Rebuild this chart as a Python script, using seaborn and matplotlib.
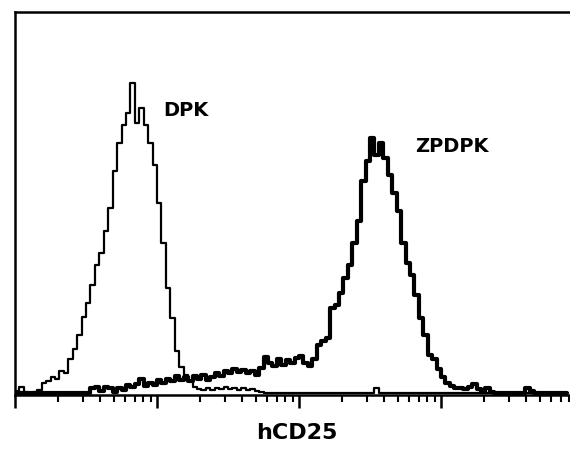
import numpy as np
import pandas as pd
import matplotlib
matplotlib.use("Agg")
import matplotlib.pyplot as plt
import seaborn as sns
from matplotlib.ticker import LogLocator, NullFormatter

# channel counts, 32 channels per decade
dpk = [2, 6, 1, 0, 1, 3, 10, 12, 16, 14,
       22, 20, 34, 44, 58, 76, 90, 108, 128, 140,
       162, 185, 222, 250, 268, 280, 310, 270, 285, 268,
       250, 228, 190, 150, 105, 75, 42, 26, 18, 12,
       6, 4, 3, 5, 3, 5, 4, 6, 4, 5,
       3, 5, 3, 4, 2, 1, 0, 0, 0, 0,
       0, 0, 0, 0, 0, 0, 0, 0, 0, 0,
       0, 0, 0, 0, 0, 0, 0, 0, 0, 0,
       0, 5, 0, 0, 0, 0, 0, 0, 0, 0,
       0, 0, 0, 0, 0, 0, 0, 0, 0, 0,
       0, 0, 0, 0, 0, 0, 0, 0, 0, 0,
       0, 0, 0, 0, 0, 0, 0, 0, 0, 0,
       0, 0, 0, 0, 0]

zpdpk = [0, 0, 0, 0, 0, 0, 0, 0, 0, 0,
         0, 0, 0, 0, 0, 0, 0, 5, 6, 2,
         6, 5, 1, 5, 3, 8, 6, 9, 14, 7,
         10, 8, 13, 10, 14, 12, 17, 13, 16, 12,
         17, 14, 18, 13, 16, 20, 17, 22, 20, 24,
         21, 23, 20, 22, 18, 25, 36, 30, 27, 34,
         28, 33, 30, 35, 37, 30, 27, 34, 48, 52,
         55, 85, 88, 100, 115, 128, 150, 172, 212, 232,
         255, 238, 250, 235, 218, 200, 182, 150, 130, 118,
         98, 75, 58, 38, 34, 24, 16, 10, 7, 5,
         5, 4, 6, 9, 4, 1, 5, 1, 0, 0,
         0, 0, 0, 0, 0, 5, 2, 0, 0, 0,
         0, 0, 0, 0, 0]

per_decade = 32
chan = np.arange(len(dpk))
fluor = 10 ** ((chan + 0.5) / per_decade)

df = pd.DataFrame({"hCD25": np.concatenate([fluor, fluor]),
                   "count": dpk + zpdpk,
                   "sample": ["DPK"] * len(dpk) + ["ZPDPK"] * len(zpdpk)})

sns.set_style("white")
plt.rcParams["font.family"] = ["DejaVu Sans"]
plt.rcParams["text.color"] = "black"

fig = plt.figure(figsize=(5.7, 4.51), dpi=100)
ax = fig.add_axes([15 / 570, 1 - 395 / 451, 1 - 15 / 570, (395 - 12) / 451])

sns.lineplot(data=df[df["sample"] == "DPK"], x="hCD25", y="count",
             color="black", linewidth=1.6, drawstyle="steps-mid", ax=ax)
sns.lineplot(data=df[df["sample"] == "ZPDPK"], x="hCD25", y="count",
             color="black", linewidth=3.0, drawstyle="steps-mid", ax=ax)

ax.set_xscale("log")
ax.set_xlim(1, 10 ** (555 / 142))
ax.set_ylim(-2, 381)

ax.xaxis.set_major_locator(LogLocator(base=10, numticks=10))
ax.xaxis.set_minor_locator(LogLocator(base=10, subs=np.arange(2, 10), numticks=50))
ax.xaxis.set_major_formatter(NullFormatter())
ax.xaxis.set_minor_formatter(NullFormatter())
ax.tick_params(axis="x", which="major", direction="out", length=9, width=1.8,
               bottom=True, color="black")
ax.tick_params(axis="x", which="minor", direction="out", length=5, width=1.5,
               bottom=True, color="black")
ax.set_yticks([])
ax.set_ylabel("")
ax.set_xlabel("")

for side in ["left", "top", "bottom"]:
    ax.spines[side].set_color("black")
    ax.spines[side].set_linewidth(1.8)
ax.spines["right"].set_visible(False)

ax.text(10 ** (148 / 142), 283, "DPK", fontsize=14, fontweight="bold",
        va="center", color="black")
ax.text(10 ** (400 / 142), 247, "ZPDPK", fontsize=14, fontweight="bold",
        va="center", color="black")
fig.text(297 / 570, 1 - 433 / 451, "hCD25", fontsize=16, fontweight="bold",
         ha="center", va="center", color="black")

fig.savefig("out.png", dpi=100)
